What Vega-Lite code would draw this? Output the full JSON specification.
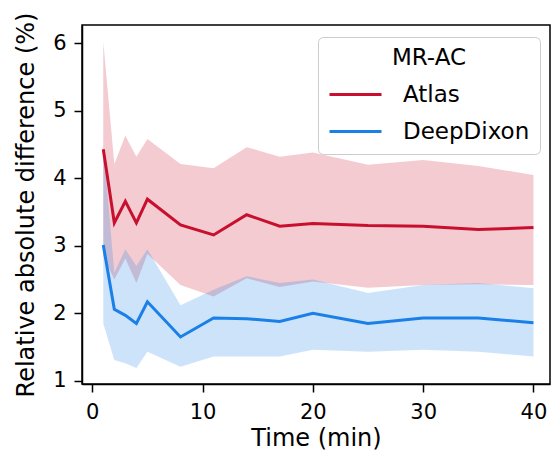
{
  "$schema": "https://vega.github.io/schema/vega-lite/v6.json",
  "width": 468,
  "height": 359,
  "autosize": {"type": "none"},
  "padding": {"left": 82, "top": 25, "right": 3, "bottom": 77},
  "config": {
    "font": "DejaVu Sans",
    "view": {"stroke": "black", "strokeWidth": 1.5},
    "axis": {
      "grid": false,
      "domainColor": "black",
      "domainWidth": 1.5,
      "tickColor": "black",
      "tickWidth": 1.5,
      "tickSize": 8,
      "labelColor": "black",
      "labelFontSize": 21,
      "labelPadding": 8,
      "titleColor": "black",
      "titleFontSize": 24,
      "titleFontWeight": "normal"
    }
  },
  "data": {
    "values": [
      {"method": "Atlas", "time": 1, "mean": 4.43, "lo": 2.85, "hi": 6.02},
      {"method": "Atlas", "time": 2, "mean": 3.34, "lo": 2.50, "hi": 4.21},
      {"method": "Atlas", "time": 3, "mean": 3.66, "lo": 2.81, "hi": 4.63},
      {"method": "Atlas", "time": 4, "mean": 3.34, "lo": 2.45, "hi": 4.32},
      {"method": "Atlas", "time": 5, "mean": 3.69, "lo": 2.88, "hi": 4.58},
      {"method": "Atlas", "time": 8, "mean": 3.31, "lo": 2.42, "hi": 4.21},
      {"method": "Atlas", "time": 11, "mean": 3.16, "lo": 2.25, "hi": 4.15},
      {"method": "Atlas", "time": 14, "mean": 3.46, "lo": 2.52, "hi": 4.46},
      {"method": "Atlas", "time": 17, "mean": 3.29, "lo": 2.39, "hi": 4.32},
      {"method": "Atlas", "time": 20, "mean": 3.33, "lo": 2.47, "hi": 4.38},
      {"method": "Atlas", "time": 25, "mean": 3.30, "lo": 2.38, "hi": 4.20},
      {"method": "Atlas", "time": 30, "mean": 3.29, "lo": 2.42, "hi": 4.27},
      {"method": "Atlas", "time": 35, "mean": 3.24, "lo": 2.43, "hi": 4.18},
      {"method": "Atlas", "time": 40, "mean": 3.27, "lo": 2.42, "hi": 4.05},
      {"method": "DeepDixon", "time": 1, "mean": 3.01, "lo": 1.85, "hi": 4.50},
      {"method": "DeepDixon", "time": 2, "mean": 2.06, "lo": 1.31, "hi": 2.60},
      {"method": "DeepDixon", "time": 3, "mean": 1.97, "lo": 1.26, "hi": 2.95},
      {"method": "DeepDixon", "time": 4, "mean": 1.85, "lo": 1.19, "hi": 2.70},
      {"method": "DeepDixon", "time": 5, "mean": 2.17, "lo": 1.43, "hi": 2.95},
      {"method": "DeepDixon", "time": 8, "mean": 1.65, "lo": 1.21, "hi": 2.12},
      {"method": "DeepDixon", "time": 11, "mean": 1.93, "lo": 1.36, "hi": 2.35},
      {"method": "DeepDixon", "time": 14, "mean": 1.92, "lo": 1.36, "hi": 2.55},
      {"method": "DeepDixon", "time": 17, "mean": 1.88, "lo": 1.36, "hi": 2.45},
      {"method": "DeepDixon", "time": 20, "mean": 2.00, "lo": 1.46, "hi": 2.50},
      {"method": "DeepDixon", "time": 25, "mean": 1.85, "lo": 1.43, "hi": 2.30},
      {"method": "DeepDixon", "time": 30, "mean": 1.93, "lo": 1.46, "hi": 2.42},
      {"method": "DeepDixon", "time": 35, "mean": 1.93, "lo": 1.43, "hi": 2.45},
      {"method": "DeepDixon", "time": 40, "mean": 1.86, "lo": 1.36, "hi": 2.37}
    ]
  },
  "resolve": {"legend": {"fill": "independent", "color": "independent"}, "scale": {"fill": "independent", "color": "independent"}},
  "layer": [
    {
      "mark": {"type": "area", "opacity": 0.22},
      "encoding": {
        "x": {
          "field": "time", "type": "quantitative",
          "scale": {"domain": [-0.93, 41.5], "nice": false, "zero": false},
          "axis": {"values": [0, 10, 20, 30, 40], "format": "d", "title": "Time (min)", "titlePadding": 4, "labelPadding": 9}
        },
        "y": {
          "field": "lo", "type": "quantitative",
          "scale": {"domain": [0.953, 6.27], "nice": false, "zero": false},
          "axis": {"values": [1, 2, 3, 4, 5, 6], "format": "d", "title": "Relative absolute difference (%)", "titlePadding": 14}
        },
        "y2": {"field": "hi"},
        "fill": {
          "field": "method", "type": "nominal",
          "scale": {"domain": ["Atlas", "DeepDixon"], "range": ["#c8102e", "#1a80e8"]},
          "legend": null
        }
      }
    },
    {
      "mark": {"type": "line", "strokeWidth": 3},
      "encoding": {
        "x": {"field": "time", "type": "quantitative"},
        "y": {"field": "mean", "type": "quantitative"},
        "color": {
          "field": "method", "type": "nominal",
          "scale": {"domain": ["Atlas", "DeepDixon"], "range": ["#c8102e", "#1a80e8"]},
          "legend": {
            "title": "MR-AC",
            "orient": "none",
            "legendX": 236,
            "legendY": 12,
            "titleFontSize": 23,
            "titleFontWeight": "normal",
            "titleColor": "black",
            "titleAnchor": "middle",
            "titlePadding": 13,
            "labelFontSize": 23,
            "labelColor": "black",
            "symbolType": "M-2.6,0H2.6",
            "symbolSize": 400,
            "symbolStrokeWidth": 3,
            "symbolOffset": 16,
            "labelOffset": 36,
            "rowPadding": 13,
            "padding": 10,
            "fillColor": "white",
            "strokeColor": "#cccccc",
            "cornerRadius": 5
          }
        }
      }
    }
  ]
}
